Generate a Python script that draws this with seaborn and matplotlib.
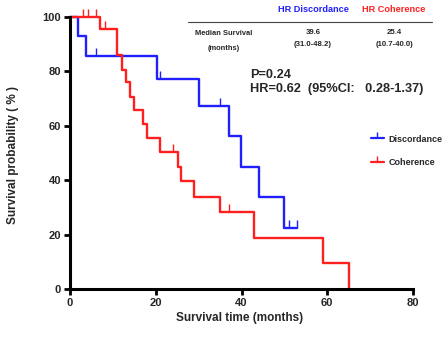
import numpy as np
import pandas as pd
import matplotlib
matplotlib.use("Agg")
import matplotlib.pyplot as plt
from matplotlib.lines import Line2D
import seaborn as sns

# ---- data ----
blue_times = [0, 1.9, 3.8, 20.2, 30.0, 37.0, 39.9, 44.0, 49.9, 53.0]
blue_surv = [100, 92.9, 85.7, 77.1, 67.4, 56.2, 44.9, 33.7, 22.4, 22.4]
blue_censor = [6.0, 21.0, 35.0, 51.0, 53.0]

red_times = [0, 7.0, 11.0, 12.1, 13.0, 14.1, 15.0, 17.0, 17.9, 21.1, 25.1, 26.0, 29.0, 35.1, 43.0, 59.0, 65.0]
red_surv = [100, 95.5, 85.9, 80.5, 76.0, 70.6, 65.7, 60.7, 55.4, 50.5, 45.0, 39.6, 33.8, 28.2, 18.8, 9.4, 0]
red_censor = [3.0, 4.3, 6.0, 8.2, 24.0, 37.0]

groups = ["Discordance", "Coherence"]
colors = {"Discordance": "#1f1fff", "Coherence": "#ff1f1f"}
x_ticks = [0, 20, 40, 60, 80]
y_ticks = [0, 20, 40, 60, 80, 100]

table_header = ["HR Discordance", "HR Coherence"]
median_vals = ["39.6", "25.4"]
median_ci = ["(31.0-48.2)", "(10.7-40.0)"]
p_text = "P=0.24"
hr_text = "HR=0.62  (95%CI:   0.28-1.37)"

sns.set_style("ticks")
FONT = ["Liberation Sans", "DejaVu Sans"]
plt.rcParams["font.family"] = FONT

df = pd.concat([
    pd.DataFrame({"time": blue_times, "surv": blue_surv, "group": "Discordance"}),
    pd.DataFrame({"time": red_times, "surv": red_surv, "group": "Coherence"}),
], ignore_index=True)

def step_val(times, surv, t):
    i = np.searchsorted(times, t, side="right") - 1
    return surv[i]

cens = pd.concat([
    pd.DataFrame({"time": blue_censor,
                  "surv": [step_val(blue_times, blue_surv, t) for t in blue_censor],
                  "group": "Discordance"}),
    pd.DataFrame({"time": red_censor,
                  "surv": [step_val(red_times, red_surv, t) for t in red_censor],
                  "group": "Coherence"}),
], ignore_index=True)

W, H = 447, 339
fig = plt.figure(figsize=(W / 100, H / 100), dpi=100)
ax = fig.add_axes([70 / W, 1 - 289 / H, 343 / W, 272 / H])

sns.lineplot(data=df, x="time", y="surv", hue="group", palette=colors,
             estimator=None, sort=False, drawstyle="steps-post",
             linewidth=1.7, legend=False, ax=ax)
for line in ax.lines:
    line.set_clip_on(False)
for g in groups:
    sub = cens[cens.group == g]
    ax.plot(sub.time, sub.surv, linestyle="none", marker=2, markersize=5.5,
            markeredgewidth=1.0, color=colors[g], clip_on=False)

ax.set_xlim(0, 80)
ax.set_ylim(0, 100)
ax.set_xticks(x_ticks)
ax.set_yticks(y_ticks)
for s in ["top", "right"]:
    ax.spines[s].set_visible(False)
for s in ["left", "bottom"]:
    ax.spines[s].set_linewidth(2.2)
    ax.spines[s].set_color("black")
ax.tick_params(axis="both", which="major", length=4.5, width=2.0, direction="out",
               labelsize=8, pad=2, color="black")
for lab in ax.get_xticklabels() + ax.get_yticklabels():
    lab.set_fontweight("bold")

ax.set_xlabel("Survival time (months)", fontsize=8.5, fontweight="bold")
ax.set_ylabel("Survival probability ( % )", fontsize=8.5, fontweight="bold")
ax.xaxis.set_label_coords((240 - 70) / 343, (289 - 318) / 272)
ax.yaxis.set_label_coords((13 - 70) / 343, (289 - 155) / 272)
ax.xaxis.label.set_va("center")
ax.yaxis.label.set_va("center")

def ft(x, y, s, **kw):
    fig.text(x / W, 1 - y / H, s, **kw)

# table
ft(313, 9.5, table_header[0], color="#1f1fff", fontsize=6.6, fontweight="bold", ha="center", va="center")
ft(394, 9.5, table_header[1], color="#ff1f1f", fontsize=6.6, fontweight="bold", ha="center", va="center")
fig.add_artist(Line2D([188 / W, 432 / W], [1 - 22 / H, 1 - 22 / H], color="#444444", linewidth=0.8))
ft(224, 33.5, "Median Survival", fontsize=5.4, fontweight="bold", ha="center", va="center")
ft(224, 49, "(months)", fontsize=5.4, fontweight="bold", ha="center", va="center")
for cx, v, ci in zip([313, 394], median_vals, median_ci):
    ft(cx, 33, v, fontsize=5.6, fontweight="bold", ha="center", va="center")
    ft(cx, 44, ci, fontsize=5.6, fontweight="bold", ha="center", va="center")

ft(250, 75, p_text, fontsize=9.2, fontweight="bold", ha="left", va="center")
ft(250, 88.5, hr_text, fontsize=9.2, fontweight="bold", ha="left", va="center")

handles = [Line2D([0], [0], color=colors[g], linewidth=1.6, marker=2, markersize=4,
                  markeredgewidth=1.0) for g in groups]
leg = fig.legend(handles, groups, loc="upper left", numpoints=1,
                 bbox_to_anchor=(366 / W, 1 - 130 / H), frameon=False,
                 prop={"size": 6.5, "weight": "bold"}, handlelength=1.5,
                 handletextpad=0.5, labelspacing=1.6, borderpad=0)

fig.savefig("out.png", dpi=100)
